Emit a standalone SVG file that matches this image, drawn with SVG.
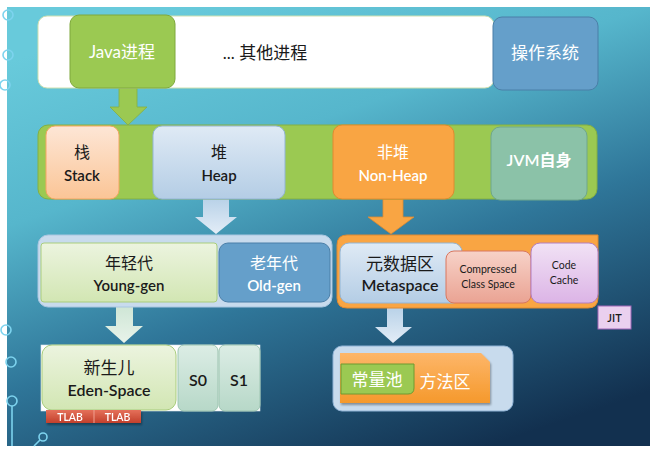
<svg xmlns="http://www.w3.org/2000/svg" width="650" height="449" viewBox="0 0 650 449">
<defs>
<linearGradient id="bg" x1="0.25" y1="0" x2="0.75" y2="1">
<stop offset="0" stop-color="#68cadb"/>
<stop offset="0.3" stop-color="#56b6cc"/>
<stop offset="0.6" stop-color="#2f7699"/>
<stop offset="1" stop-color="#12304f"/>
</linearGradient>
<linearGradient id="gPeach" x1="0" y1="0" x2="0" y2="1"><stop offset="0" stop-color="#fde6d6"/><stop offset="1" stop-color="#fbc596"/></linearGradient>
<linearGradient id="gBlue" x1="0" y1="0" x2="0" y2="1"><stop offset="0" stop-color="#dfeaf5"/><stop offset="1" stop-color="#b4cde5"/></linearGradient>
<linearGradient id="gGreen" x1="0" y1="0" x2="0" y2="1"><stop offset="0" stop-color="#ecf4df"/><stop offset="1" stop-color="#d2e6b3"/></linearGradient>
<linearGradient id="gTeal" x1="0" y1="0" x2="0" y2="1"><stop offset="0" stop-color="#dcede5"/><stop offset="1" stop-color="#b7d8c8"/></linearGradient>
<linearGradient id="gSalmon" x1="0" y1="0" x2="0" y2="1"><stop offset="0" stop-color="#f7d2c8"/><stop offset="1" stop-color="#eaa393"/></linearGradient>
<linearGradient id="gPurple" x1="0" y1="0" x2="0" y2="1"><stop offset="0" stop-color="#f1e2f5"/><stop offset="1" stop-color="#dcb4e6"/></linearGradient>
<linearGradient id="gOrange" x1="0" y1="0" x2="0" y2="1"><stop offset="0" stop-color="#fdb669"/><stop offset="1" stop-color="#f5992c"/></linearGradient>
<linearGradient id="gRed" x1="0" y1="0" x2="0" y2="1"><stop offset="0" stop-color="#e5705a"/><stop offset="1" stop-color="#c2402b"/></linearGradient>
<linearGradient id="gArrowBlue" x1="0" y1="0" x2="0" y2="1"><stop offset="0" stop-color="#b9d2e8"/><stop offset="1" stop-color="#e3edf7"/></linearGradient>
<linearGradient id="gArrowGreen" x1="0" y1="0" x2="0" y2="1"><stop offset="0" stop-color="#cfe6d6"/><stop offset="1" stop-color="#e8f3ea"/></linearGradient>
<filter id="sh" x="-10%" y="-10%" width="130%" height="140%"><feDropShadow dx="1" dy="2" stdDeviation="1.2" flood-color="#000" flood-opacity="0.35"/></filter>
</defs>
<style>
.t{font-family:"Lato","Noto Sans CJK SC",sans-serif;text-anchor:middle;}
.cj{font-family:"Noto Sans CJK SC",sans-serif;text-anchor:middle;}
.w{fill:#ffffff;}
.d{fill:#1a1a1a;}
.deco{fill:none;stroke:#7dd3ee;stroke-width:1.6;}
</style>

<rect x="0" y="0" width="650" height="449" fill="#ffffff"/>
<rect x="7" y="7" width="643" height="439" fill="url(#bg)"/>

<g id="decorations">
<circle class="deco" cx="8" cy="15" r="5"/>
<circle class="deco" cx="8" cy="55" r="5"/>
<circle class="deco" cx="5" cy="85" r="5"/>
<circle class="deco" cx="6" cy="330" r="5"/>
<circle class="deco" cx="11" cy="362" r="5"/>
<circle class="deco" cx="12" cy="401" r="5"/>
<line class="deco" x1="12" y1="406" x2="12" y2="446"/>
<circle class="deco" cx="43" cy="437" r="4"/>
<line class="deco" x1="40" y1="440" x2="34" y2="446"/>
</g>

<g id="connectors">
<polygon points="119,88 137,88 137,107 147,107 128,125 110,107 119,107" fill="#9bc952" stroke="#86b040" stroke-width="0.8"/>
<polygon points="203,199 229,199 229,217 237,217 216,234 195,217 203,217" fill="url(#gArrowBlue)"/>
<polygon points="383,199 403,199 403,217 414,217 391,234 368,217 383,217" fill="#f9a543" stroke="#e08a30" stroke-width="0.8"/>
<polygon points="116,307 133,307 133,326 143,326 124,343 105,326 116,326" fill="url(#gArrowGreen)"/>
<polygon points="387,308 403,308 403,327 412,327 393,343 375,327 387,327" fill="url(#gArrowBlue)"/>
</g>

<g id="os-row">
<rect x="38" y="16" width="456" height="72" rx="9" fill="#ffffff" stroke="#cfe0b0" stroke-width="1"/>
</g>
<g id="java-process">
<rect x="70" y="15" width="105" height="73" rx="9" fill="#9bc952" stroke="#7ea83c" stroke-width="1"/>
<text class="t w" x="122" y="58" font-size="17">Java进程</text>
</g>
<g id="other-process">
<text class="t d" x="265" y="59" font-size="17">... 其他进程</text>
</g>
<g id="os">
<rect x="493" y="17" width="105" height="73" rx="9" fill="#659fca" stroke="#4b7fa8" stroke-width="1"/>
<text class="cj w" x="545" y="59" font-size="17">操作系统</text>
</g>

<g id="jvm-band">
<rect x="38" y="125" width="559" height="74" rx="10" fill="#9bc952" stroke="#84b042" stroke-width="1"/>
</g>
<g id="stack">
<rect x="46" y="126" width="73" height="73" rx="9" fill="url(#gPeach)" stroke="#f4a660" stroke-width="1"/>
<text class="cj d" x="82" y="158" font-size="16">栈</text>
<text class="t d" x="82" y="181" font-size="15" font-weight="600">Stack</text>
</g>
<g id="heap">
<rect x="153" y="126" width="132" height="73" rx="9" fill="url(#gBlue)" stroke="#92b5d6" stroke-width="1"/>
<text class="cj d" x="219" y="158" font-size="16">堆</text>
<text class="t d" x="219" y="181" font-size="15" font-weight="600">Heap</text>
</g>
<g id="non-heap">
<rect x="333" y="125" width="121" height="74" rx="9" fill="#f9a543" stroke="#e08a30" stroke-width="1"/>
<text class="cj w" x="393" y="158" font-size="16">非堆</text>
<text class="t w" x="393" y="181" font-size="15" font-weight="600">Non-Heap</text>
</g>
<g id="jvm-self">
<rect x="491" y="127" width="96" height="73" rx="9" fill="#8bc2a8" stroke="#6ea78c" stroke-width="1"/>
<text class="t w" x="539" y="166" font-size="16" font-weight="600">JVM自身</text>
</g>

<g id="heap-area">
<rect x="38" y="235" width="294" height="72" rx="10" fill="#c8dbed" stroke="#a9c6e0" stroke-width="1"/>
</g>
<g id="young-gen">
<rect x="41" y="243" width="176" height="59" rx="3" fill="url(#gGreen)" stroke="#a9cd7c" stroke-width="1"/>
<text class="cj d" x="129" y="269" font-size="16">年轻代</text>
<text class="t d" x="129" y="291" font-size="15" font-weight="600">Young-gen</text>
</g>
<g id="old-gen">
<rect x="219" y="243" width="111" height="59" rx="9" fill="#659fca" stroke="#4b7fa8" stroke-width="1"/>
<text class="cj w" x="274" y="269" font-size="16">老年代</text>
<text class="t w" x="274" y="291" font-size="15" font-weight="600">Old-gen</text>
</g>

<g id="non-heap-area">
<path d="M347,235 H598 V298 Q598,308 588,308 H347 Q337,308 337,298 V245 Q337,235 347,235 Z" fill="#f9a543" stroke="#e08a30" stroke-width="1"/>
</g>
<g id="metaspace">
<rect x="340" y="243" width="122" height="60" rx="9" fill="url(#gBlue)" stroke="#92b5d6" stroke-width="1"/>
<text class="cj d" x="400" y="270" font-size="17">元数据区</text>
<text class="t d" x="400" y="291" font-size="16" font-weight="600">Metaspace</text>
</g>
<g id="compressed-class-space">
<rect x="446" y="251" width="85" height="52" rx="8" fill="url(#gSalmon)" stroke="#d9775f" stroke-width="1"/>
<text class="t d" x="488" y="273" font-size="10.5">Compressed</text>
<text class="t d" x="488" y="288" font-size="10.5">Class Space</text>
</g>
<g id="code-cache">
<rect x="531" y="243" width="67" height="60" rx="9" fill="url(#gPurple)" stroke="#b27ec2" stroke-width="1"/>
<text class="t d" x="564" y="269" font-size="10.5">Code</text>
<text class="t d" x="564" y="284" font-size="10.5">Cache</text>
</g>
<g id="jit">
<rect x="598" y="306" width="33" height="23" fill="#ead0ef" stroke="#a066b8" stroke-width="1"/>
<text class="t d" x="614.5" y="322" font-size="11" font-weight="600">JIT</text>
</g>

<g id="eden-area">
<rect x="41" y="345" width="219" height="66" fill="#ffffff" stroke="#dde8ee" stroke-width="0.6"/>
</g>
<g id="eden">
<rect x="42" y="345" width="134" height="65" rx="10" fill="url(#gGreen)" stroke="#a9cd7c" stroke-width="1"/>
<text class="cj d" x="109" y="374" font-size="17">新生儿</text>
<text class="t d" x="109" y="396" font-size="16" font-weight="600">Eden-Space</text>
</g>
<g id="s0">
<rect x="178" y="345" width="40" height="66" rx="6" fill="url(#gTeal)" stroke="#9cc5b0" stroke-width="1"/>
<text class="t d" x="198" y="386" font-size="16" font-weight="600">S0</text>
</g>
<g id="s1">
<rect x="219" y="345" width="41" height="66" rx="6" fill="url(#gTeal)" stroke="#9cc5b0" stroke-width="1"/>
<text class="t d" x="239" y="386" font-size="16" font-weight="600">S1</text>
</g>
<g id="tlab" filter="url(#sh)">
<rect x="46" y="410" width="48" height="13" fill="url(#gRed)"/>
<rect x="94" y="410" width="47" height="13" fill="url(#gRed)"/>
<line x1="94" y1="410" x2="94" y2="423" stroke="#f0a090" stroke-width="1"/>
<text class="t w" x="70" y="421" font-size="10.5" font-weight="600">TLAB</text>
<text class="t w" x="117.5" y="421" font-size="10.5" font-weight="600">TLAB</text>
</g>

<g id="method-area-container">
<rect x="333" y="346" width="180" height="65" rx="9" fill="#c8dbed" stroke="#8fb3d6" stroke-width="1"/>
</g>
<g id="method-area">
<path d="M340,353 H481 L490,362 V403 H340 Z" fill="url(#gOrange)" filter="url(#sh)"/>
<text class="cj w" x="445" y="388" font-size="17">方法区</text>
</g>
<g id="constant-pool">
<path d="M341,364 H414 V388 Q414,394 408,394 H341 Z" fill="#9bc952" stroke="#6e9a30" stroke-width="1"/>
<text class="cj w" x="377" y="386" font-size="17">常量池</text>
</g>
</svg>
